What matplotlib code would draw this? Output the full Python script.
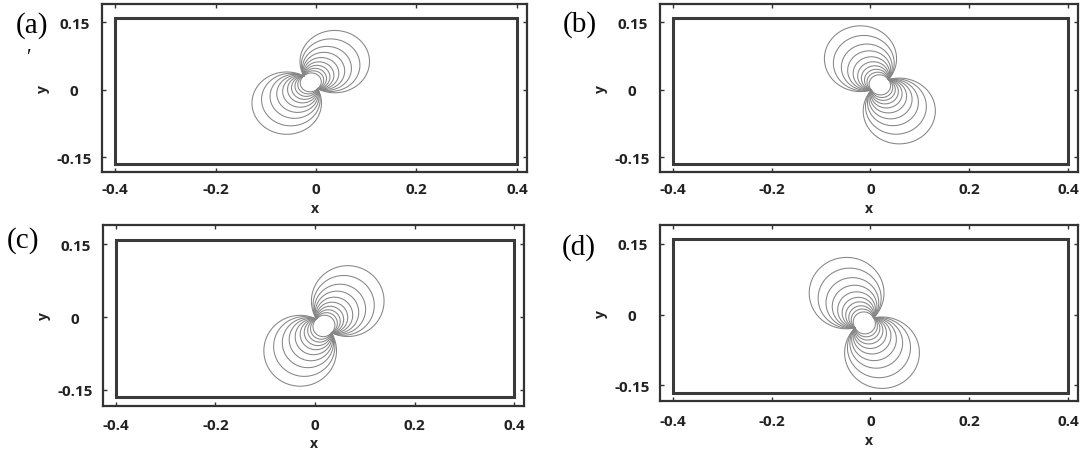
import numpy as np
import matplotlib.pyplot as plt
from matplotlib.patches import Rectangle

W, H = 1083, 452

panel_labels = ['(a)', '(b)', '(c)', '(d)']
# end points of the dipole in each panel (x, y)
pole_1 = [(-0.024, 0.030), (0.036, 0.022), (0.003, -0.004), (0.006, -0.007)]
pole_2 = [(0.003, 0.002), (0.002, -0.001), (0.033, -0.032), (-0.031, -0.028)]
# contour levels (angle subtended by the two poles, rad)
levels = [0.285, 0.34, 0.41, 0.49, 0.59, 0.71, 0.85, 1.02, 1.22, 1.47]

x_ticks = [-0.4, -0.2, 0, 0.2, 0.4]
x_tick_labels = ['-0.4', '-0.2', '0', '0.2', '0.4']
y_ticks = [-0.15, 0, 0.15]
y_tick_labels = ['-0.15', '0', '0.15']
box_x = (-0.4, 0.4)
box_y = (-0.165, 0.16)

# axes frames in pixels: left, top, right, bottom
frames = [(102, 5, 527, 173), (660, 5, 1078, 173),
          (103, 226, 524, 407), (660, 226, 1078, 402)]
label_pos = [(32, 26), (580, 25), (23, 241), (579, 248)]
xlabel_y = [209, 209, 444, 441]

tick_font = dict(family='Open Sans', weight='bold', size=11)
axis_font = dict(family='Open Sans', weight='bold', size=10)

fig = plt.figure(figsize=(W / 100, H / 100), dpi=100)

xs = np.linspace(-0.25, 0.25, 1201) + 1e-6
ys = np.linspace(-0.185, 0.19, 901) + 1e-6
X, Y = np.meshgrid(xs, ys)
Z = X + 1j * Y

for i in range(4):
    l, t, r, b = frames[i]
    ax = fig.add_axes([l / W, 1 - b / H, (r - l) / W, (b - t) / H])
    p1 = complex(*pole_1[i])
    p2 = complex(*pole_2[i])
    with np.errstate(all='ignore'):
        theta = np.abs(np.angle((Z - p1) / (Z - p2)))
    ax.contour(X, Y, theta, levels=levels, colors='#858585', linewidths=0.75,
               linestyles='solid')

    ax.add_patch(Rectangle((box_x[0], box_y[0]), box_x[1] - box_x[0], box_y[1] - box_y[0],
                           fill=False, edgecolor='#3a3a3a', linewidth=2.2))
    ax.set_xlim(-0.426, 0.42)
    ax.set_ylim(-0.183, 0.19)

    ax.set_xticks(x_ticks)
    ax.set_xticklabels(x_tick_labels, fontdict=tick_font)
    ax.set_yticks(y_ticks)
    ax.set_yticklabels(y_tick_labels, fontdict=tick_font, ha='center')
    ax.tick_params(direction='in', length=3, width=1, color='#333333',
                   top=True, right=True, labelcolor='#222222')
    ax.tick_params(axis='x', pad=7 if i < 2 else 9)
    ax.tick_params(axis='y', pad=20)
    for s in ax.spines.values():
        s.set_linewidth(1.6)
        s.set_color('#333333')

    ax.set_xlabel('x', fontdict=axis_font, color='#222222')
    ax.set_ylabel('y', fontdict=axis_font, color='#222222')
    ax.xaxis.set_label_coords(0.5, -((xlabel_y[i] - 7 - b) / (b - t)))
    ax.yaxis.set_label_coords(-(52 / (r - l)), 0.5)

    fig.text(label_pos[i][0] / W, 1 - label_pos[i][1] / H, panel_labels[i],
             family='Liberation Serif', size=21, ha='center', va='center')

# stray mark next to panel (a)
fig.text(29 / W, 1 - 58 / H, '\u2032', family='Liberation Serif', size=15,
         ha='center', va='center')

fig.savefig('out.png', dpi=100)
